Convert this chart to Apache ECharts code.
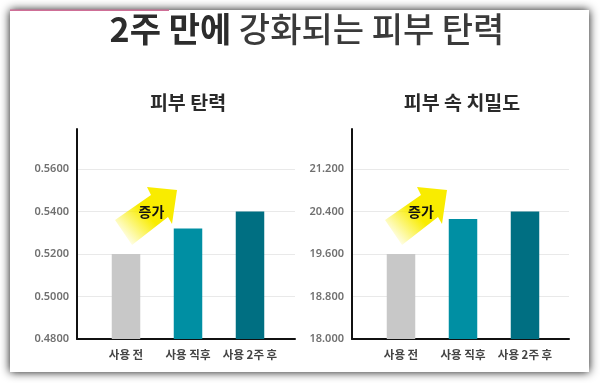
<!DOCTYPE html>
<html><head><meta charset="utf-8">
<style>html,body{margin:0;padding:0;background:#fff}#c{width:600px;height:383px}</style>
<script src="https://cdn.jsdelivr.net/npm/echarts@6/dist/echarts.min.js"></script>
</head><body><div id="c"></div>
<script>
const categories = ['사용 전', '사용 직후', '사용 2주 후'];
const elasticityValues = [0.52, 0.532, 0.54];
const densityValues = [19.6, 20.26, 20.4];
const barColors = ['#c8c8c8', '#008fa3', '#006f82'];
const mainTitleBold = '2주 만에';
const mainTitleRegular = ' 강화되는 피부 탄력';
const chartTitles = ['피부 탄력', '피부 속 치밀도'];
const increaseLabel = '증가';
const FONT = '"Noto Sans CJK KR","Noto Sans",sans-serif';

const chart = echarts.init(document.getElementById('c'), null, {renderer: 'canvas'});

function colored(vals) {
  return vals.map((v, i) => ({value: v, itemStyle: {color: barColors[i]}}));
}
const arrowFill = {
  type: 'linear', x: 0, y: 1, x2: 1, y2: 0,
  colorStops: [
    {offset: 0.1, color: 'rgba(250,240,0,0)'},
    {offset: 0.52, color: '#f9ec00'},
    {offset: 1, color: '#f9ec00'}
  ]
};
function arrow(dx) {
  const pts = [[115,220],[151,195],[147,187],[177,190],[172,224],[168,217],[132,245]];
  return {type: 'polygon', z: 20, shape: {points: pts.map(p => [p[0] + dx, p[1]])}, style: {fill: arrowFill}};
}
function arrowText(x) {
  return {type: 'text', z: 21, x: x, y: 212,
    style: {text: increaseLabel, fill: '#111', font: 'bold 14px ' + FONT, textAlign: 'center', textVerticalAlign: 'middle'}};
}

const axisLine = {show: true, onZero: false, lineStyle: {color: '#111', width: 2}};
function frameY(gridIndex, min, max, interval, digits) {
  return {
    type: 'value', gridIndex, min, max, interval,
    axisLine, axisTick: {show: false},
    axisLabel: {margin: 8, color: '#707070', fontSize: 11, fontWeight: 600, fontFamily: '"Noto Sans",sans-serif',
      showMaxLabel: false, formatter: v => v.toFixed(digits)},
    splitLine: {show: true, showMaxLine: false, showMinLine: false, lineStyle: {color: '#e9e9e9', width: 1}}
  };
}
function barY(gridIndex, min, max) {
  return {type: 'value', gridIndex, min, max, show: false, splitLine: {show: false}};
}

const option = {
  animation: false,
  backgroundColor: '#fff',
  graphic: [
    {type: 'rect', z: -10, shape: {x: 10, y: 10, width: 579, height: 362},
      style: {fill: '#fff', shadowBlur: 9, shadowColor: 'rgba(0,0,0,0.95)'}},
    {type: 'rect', z: -9, shape: {x: 10, y: 9.5, width: 159, height: 1.5}, style: {fill: '#cf6f97'}},
    {type: 'text', z: 5, x: 307, y: 29, style: {
      text: '{b|' + mainTitleBold + '}{r|' + mainTitleRegular + '}',
      textAlign: 'center', textVerticalAlign: 'middle',
      rich: {
        b: {font: 'bold 34px ' + FONT, fill: '#2c2c2c'},
        r: {font: '500 34px ' + FONT, fill: '#3a3a3a'}
      }}},
    {type: 'text', x: 188, y: 103, style: {text: chartTitles[0], fill: '#2a2a2a', font: 'bold 19.5px ' + FONT, textAlign: 'center', textVerticalAlign: 'middle'}},
    {type: 'text', x: 462, y: 103, style: {text: chartTitles[1], fill: '#2a2a2a', font: 'bold 19.5px ' + FONT, textAlign: 'center', textVerticalAlign: 'middle'}},
    arrow(0), arrowText(151.5),
    arrow(270), arrowText(421)
  ],
  grid: [
    {left: 77, width: 218, top: 129, height: 210},
    {left: 352, width: 217, top: 129, height: 210},
    {left: 95, width: 186, top: 129, height: 210},
    {left: 370, width: 186, top: 129, height: 210}
  ],
  xAxis: [
    {type: 'value', gridIndex: 0, show: true, axisLine, axisTick: {show: false}, axisLabel: {show: false}, splitLine: {show: false}},
    {type: 'value', gridIndex: 1, show: true, axisLine, axisTick: {show: false}, axisLabel: {show: false}, splitLine: {show: false}},
    ...[2, 3].map(g => ({
      type: 'category', gridIndex: g, data: categories,
      axisLine: {show: false}, axisTick: {show: false},
      axisLabel: {margin: 10, color: '#444', fontSize: 11.5, fontWeight: 'bold', fontFamily: FONT, interval: 0}
    }))
  ],
  yAxis: [
    frameY(0, 0.48, 0.5788, 0.02, 4),
    frameY(1, 18, 21.952, 0.8, 3),
    barY(2, 0.48, 0.5788),
    barY(3, 18, 21.952)
  ],
  series: [
    {type: 'bar', xAxisIndex: 2, yAxisIndex: 2, barWidth: 28.5, data: colored(elasticityValues)},
    {type: 'bar', xAxisIndex: 3, yAxisIndex: 3, barWidth: 28.5, data: colored(densityValues)}
  ]
};
chart.setOption(option);
</script></body></html>
